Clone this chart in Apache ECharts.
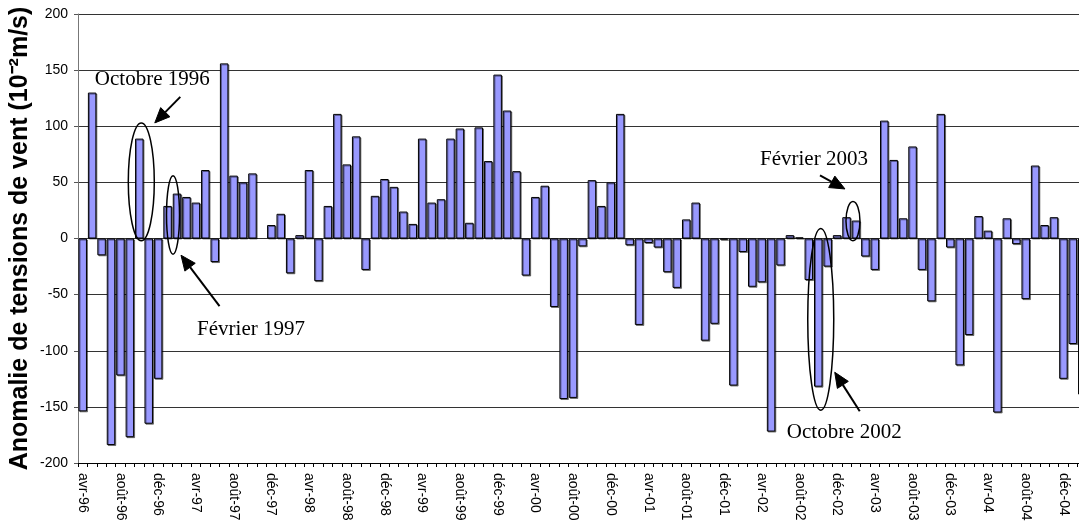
<!DOCTYPE html>
<html>
<head>
<meta charset="utf-8">
<script src="https://cdn.jsdelivr.net/npm/echarts@6/dist/echarts.min.js"></script>
<style>
  html, body { margin: 0; padding: 0; background: #fff; }
  #chart { width: 1079px; height: 523px; }
</style>
</head>
<body>
<div id="chart"></div>
<script>
// Monthly wind-stress anomalies, April 1996 to February 2005 (10^-2 m/s)
const monthNames = ['janv', 'févr', 'mars', 'avr', 'mai', 'juin', 'juil', 'août', 'sept', 'oct', 'nov', 'déc'];
const startYear = 1996;
const startMonth = 3; // avril

const anom1996 = [-154, 130, -15, -184, -122, -177, 89, -165, -125];          // avr..déc
const anom1997 = [29, 40, 37, 32, 61, -21, 156, 56, 50, 58, null, 12];
const anom1998 = [22, -31, 3, 61, -38, 29, 111, 66, 91, -28, 38, 53];
const anom1999 = [46, 24, 13, 89, 32, 35, 89, 98, 14, 99, 69, 146];
const anom2000 = [114, 60, -33, 37, 47, -61, -143, -142, -7, 52, 29, 50];
const anom2001 = [111, -6, -77, -4, -8, -30, -44, 17, 32, -91, -76, -1];
const anom2002 = [-131, -12, -43, -39, -172, -24, 3, 1, -37, -132, -25, 3];
const anom2003 = [19, 16, -16, -28, 105, 70, 18, 82, -28, -56, 111, -8];
const anom2004 = [-113, -86, 20, 7, -155, 18, -5, -54, 65, 12, 19, -125];
const anom2005 = [-94, -139];                                                 // janv..févr

const yMin = -200, yMax = 200, yStep = 50;

const values = [].concat(anom1996, anom1997, anom1998, anom1999, anom2000,
                         anom2001, anom2002, anom2003, anom2004, anom2005);
const categories = values.map((_, i) => {
  const m = startMonth + i;
  const yr = startYear + Math.floor(m / 12);
  return monthNames[m % 12] + '-' + String(yr).slice(2);
});

// Highlighted months: ellipse around the bar, arrow and caption (offsets in px)
const notes = [
  { text: 'Octobre 1996', month: 'oct-96', span: [-2, 103], dx: 2, rx: 13, anchor: 'top',
    tail: [39, -26], head: [13.5, 0], label: [11, -43] },
  { text: 'Février 1997', month: 'févr-97', span: [-14, 56], dx: -4, rx: 6.5, anchor: 'bottom',
    tail: [46.5, 52], head: [8, 1], label: [78, 75] },
  { text: 'Février 2003', month: 'févr-03', span: [-2, 33], dx: -3, rx: 7, anchor: 'top',
    tail: [-33, -26], head: [-8, -12.5], label: [-39, -42] },
  { text: 'Octobre 2002', month: 'oct-02', span: [-153, 9], dx: 2.5, rx: 13, anchor: 'bottom',
    tail: [39, 1], head: [14, -38], label: [23.5, 22] }
];

const chart = echarts.init(document.getElementById('chart'), null, { renderer: 'canvas' });

const option = {
  animation: false,
  backgroundColor: '#fff',
  // the plotting area runs a little past the right edge of the page
  grid: { left: 78, top: 14, width: 1009, height: 449, containLabel: false, outerBoundsMode: 'none' },
  xAxis: [
    {
      type: 'category',
      data: categories,
      position: 'bottom',
      axisLine: { show: false },
      axisTick: { show: false },
      splitLine: { show: false },
      axisLabel: {
        interval: 3,
        rotate: -90,
        margin: 10,
        color: '#000',
        fontFamily: 'Liberation Sans, Arial, sans-serif',
        fontSize: 14
      }
    },
    {
      type: 'category',
      data: categories,
      position: 'bottom',
      axisLine: { show: true, onZero: true, lineStyle: { color: '#000', width: 1 } },
      axisTick: { show: true, interval: 0, length: 4, lineStyle: { color: '#000' } },
      axisLabel: { show: false },
      splitLine: { show: false }
    }
  ],
  yAxis: {
    type: 'value',
    min: yMin,
    max: yMax,
    interval: yStep,
    name: 'Anomalie de tensions de vent (10⁻²m/s)',
    nameLocation: 'middle',
    nameRotate: 90,
    nameGap: 45,
    nameMoveOverlap: false,
    nameTextStyle: {
      color: '#000',
      fontFamily: 'Liberation Sans, Arial, sans-serif',
      fontWeight: 'bold',
      fontSize: 25
    },
    axisLine: { show: true, lineStyle: { color: '#777', width: 1 } },
    axisTick: { show: true, length: 4, lineStyle: { color: '#555' } },
    axisLabel: {
      margin: 10,
      color: '#000',
      fontFamily: 'Liberation Sans, Arial, sans-serif',
      fontSize: 14
    },
    splitLine: { show: true, lineStyle: { color: '#333', width: 1 } }
  },
  series: [
    {
      type: 'bar',
      xAxisIndex: 0,
      yAxisIndex: 0,
      data: values,
      barCategoryGap: '10%',
      itemStyle: {
        color: '#9999FF',
        borderColor: '#000',
        borderWidth: 1,
        shadowColor: 'rgba(0,0,0,0.45)',
        shadowOffsetX: 1,
        shadowOffsetY: 1,
        shadowBlur: 0
      }
    }
  ]
};

chart.setOption(option);

function arrowHeadPoints(t, h, len, half) {
  const vx = h[0] - t[0], vy = h[1] - t[1];
  const d = Math.hypot(vx, vy) || 1;
  const ux = vx / d, uy = vy / d;
  const bx = h[0] - ux * len, by = h[1] - uy * len;
  return [h, [bx - uy * half, by + ux * half], [bx + uy * half, by - ux * half]];
}

const graphics = [];
notes.forEach(n => {
  const idx = categories.indexOf(n.month);
  const top = chart.convertToPixel({ xAxisIndex: 0, yAxisIndex: 0 }, [idx, n.span[1]]);
  const bot = chart.convertToPixel({ xAxisIndex: 0, yAxisIndex: 0 }, [idx, n.span[0]]);
  const cx = top[0] + n.dx;
  const cy = (top[1] + bot[1]) / 2;
  const ry = (bot[1] - top[1]) / 2;
  const ax = cx, ay = n.anchor === 'top' ? top[1] : bot[1];
  const t = [ax + n.tail[0], ay + n.tail[1]];
  const h = [ax + n.head[0], ay + n.head[1]];
  const pts = arrowHeadPoints(t, h, 15, 6.5);
  const shaftEnd = [(pts[1][0] + pts[2][0]) / 2, (pts[1][1] + pts[2][1]) / 2];

  graphics.push({
    type: 'ellipse',
    shape: { cx: cx, cy: cy, rx: n.rx, ry: ry },
    style: { fill: 'none', stroke: '#000', lineWidth: 1.5 },
    z: 100
  });
  graphics.push({
    type: 'line',
    shape: { x1: t[0], y1: t[1], x2: shaftEnd[0], y2: shaftEnd[1] },
    style: { stroke: '#000', lineWidth: 2 },
    z: 100
  });
  graphics.push({
    type: 'polygon',
    shape: { points: pts },
    style: { fill: '#000', stroke: '#000', lineWidth: 1 },
    z: 100
  });
  graphics.push({
    type: 'text',
    x: ax + n.label[0],
    y: ay + n.label[1],
    style: {
      text: n.text,
      font: '21px "Liberation Serif", "Times New Roman", serif',
      fill: '#000',
      align: 'center',
      verticalAlign: 'middle',
      textAlign: 'center',
      textVerticalAlign: 'middle'
    },
    z: 100
  });
});

chart.setOption({ graphic: { elements: graphics } });
</script>
</body>
</html>
